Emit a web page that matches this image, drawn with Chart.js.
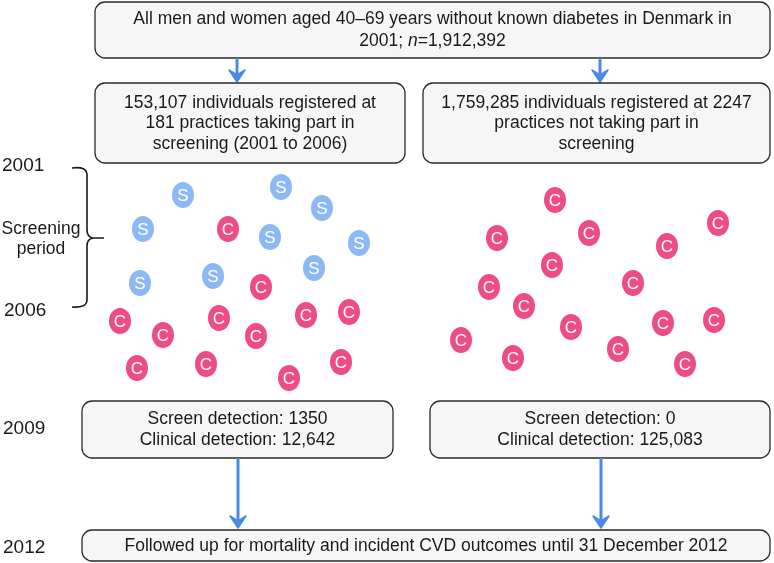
<!DOCTYPE html>
<html>
<head>
<meta charset="utf-8">
<script src="https://cdn.jsdelivr.net/npm/chart.js@4"></script>
<style>
  body { margin: 0; background: #fff; }
  #wrap { width: 774px; height: 563px; position: relative; }
</style>
</head>
<body>
<div id="wrap"><canvas id="flowChart"></canvas></div>
<script>
// Screen-detected cases (blue S) in the screening practices
const screenLeft = [
    [183, 195], [281, 187], [322, 208], [143, 229], [270, 237],
    [359, 243], [314, 268], [213, 276], [140, 283]
];
// Clinically detected cases (pink C) in the screening practices
const clinicalLeft = [
    [228, 229], [261, 287], [120, 321], [163, 335], [219, 318], [256, 336],
    [306, 315], [349, 312], [137, 368], [206, 364], [341, 362], [289, 378]
];
// Clinically detected cases in practices not taking part
const clinicalRight = [
    [555, 200], [497, 238], [589, 233], [718, 223], [667, 246], [552, 265],
    [633, 283], [489, 287], [524, 306], [571, 327], [663, 323], [714, 320],
    [461, 340], [513, 358], [618, 349], [685, 364]
];

const yearLabels = ['2001', '2006', '2009', '2012'];
const bracketLabel = ['Screening', 'period'];
const topText = ['All men and women aged 40\u201369 years without known diabetes in Denmark in', '2001; |n|=1,912,392'];
const screenGroupText = ['153,107 individuals registered at', '181 practices taking part in', 'screening (2001 to 2006)'];
const controlGroupText = ['1,759,285 individuals registered at 2247', 'practices not taking part in', 'screening'];
const screenResultText = ['Screen detection: 1350', 'Clinical detection: 12,642'];
const controlResultText = ['Screen detection: 0', 'Clinical detection: 125,083'];
const followUpText = ['Followed up for mortality and incident CVD outcomes until 31 December 2012'];

const FONT = '"Liberation Sans", Arial, Helvetica, sans-serif';
const BLUE = '#4a8ae6';
const TEXT_SIZE = 17.5;

function toPts(arr) {
    return arr.map(p => ({ x: p[0], y: p[1] }));
}

// small oval marker with a white letter, used as point style
function makeMarker(letter, color) {
    const c = document.createElement('canvas');
    c.width = 24;
    c.height = 28;
    const g = c.getContext('2d');
    g.fillStyle = color;
    g.beginPath();
    g.ellipse(12, 14, 11, 13, 0, 0, Math.PI * 2);
    g.fill();
    g.fillStyle = '#ffffff';
    g.font = '17px ' + FONT;
    g.textAlign = 'center';
    g.textBaseline = 'middle';
    g.fillText(letter, 12, 15);
    return c;
}

// draws one line of text, parts between | are italic
function drawLine(ctx, line, cx, cy, size) {
    const parts = line.split('|');
    let total = 0;
    const widths = parts.map((p, i) => {
        ctx.font = (i % 2 ? 'italic ' : '') + size + 'px ' + FONT;
        const w = ctx.measureText(p).width;
        total += w;
        return w;
    });
    let x = cx - total / 2;
    parts.forEach((p, i) => {
        ctx.font = (i % 2 ? 'italic ' : '') + size + 'px ' + FONT;
        ctx.textAlign = 'left';
        ctx.fillText(p, x, cy);
        x += widths[i];
    });
}

const flowPlugin = {
    id: 'flow',
    beforeDatasetsDraw(chart) {
        const ctx = chart.ctx;
        const sx = v => chart.scales.x.getPixelForValue(v);
        const sy = v => chart.scales.y.getPixelForValue(v);

        function box(x0, y0, x1, y1, lines, lineGap, size) {
            const l = sx(x0), t = sy(y0), r = sx(x1), b = sy(y1);
            ctx.save();
            ctx.beginPath();
            ctx.roundRect(l, t, r - l, b - t, 10);
            ctx.fillStyle = '#f6f6f6';
            ctx.fill();
            ctx.lineWidth = 1.3;
            ctx.strokeStyle = '#2b2b2b';
            ctx.stroke();
            ctx.fillStyle = '#1a1a1a';
            ctx.textBaseline = 'middle';
            const cy = (t + b) / 2 - (lines.length - 1) * lineGap / 2 + 0.5;
            lines.forEach((ln, i) => drawLine(ctx, ln, (l + r) / 2, cy + i * lineGap, size));
            ctx.restore();
        }

        function arrow(x, y0, y1) {
            const px = sx(x), t = sy(y0), b = sy(y1);
            ctx.save();
            ctx.strokeStyle = BLUE;
            ctx.fillStyle = BLUE;
            ctx.lineWidth = 3;
            ctx.beginPath();
            ctx.moveTo(px, t);
            ctx.lineTo(px, b - 6);
            ctx.stroke();
            ctx.beginPath();
            ctx.moveTo(px, b);
            ctx.lineTo(px - 8, b - 12);
            ctx.lineTo(px, b - 7);
            ctx.lineTo(px + 8, b - 12);
            ctx.closePath();
            ctx.fill();
            ctx.lineJoin = 'round';
            ctx.lineWidth = 1.5;
            ctx.stroke();
            ctx.restore();
        }

        box(95, 2, 770, 58, topText, 22, TEXT_SIZE);
        arrow(237, 58, 82);
        arrow(600, 58, 82);
        box(95, 83, 405, 163, screenGroupText, 20.5, TEXT_SIZE);
        box(423, 83, 770, 163, controlGroupText, 20.5, TEXT_SIZE);

        box(82, 401, 393, 458, screenResultText, 21, TEXT_SIZE);
        box(430, 401, 770, 458, controlResultText, 21, TEXT_SIZE);
        arrow(238, 458, 528);
        arrow(601, 458, 528);
        box(82, 530, 770, 561, followUpText, 20, TEXT_SIZE);

        // year labels and bracket
        ctx.save();
        ctx.fillStyle = '#1a1a1a';
        ctx.textBaseline = 'middle';
        ctx.textAlign = 'left';
        ctx.font = '19px ' + FONT;
        ctx.fillText(yearLabels[0], sx(2), sy(166));
        ctx.fillText(yearLabels[1], sx(4), sy(311));
        ctx.fillText(yearLabels[2], sx(3), sy(429));
        ctx.fillText(yearLabels[3], sx(3), sy(548));
        ctx.textAlign = 'center';
        ctx.font = '17.5px ' + FONT;
        ctx.fillText(bracketLabel[0], sx(41), sy(229));
        ctx.fillText(bracketLabel[1], sx(41), sy(249));

        ctx.strokeStyle = '#1a1a1a';
        ctx.lineWidth = 1.6;
        ctx.beginPath();
        ctx.moveTo(sx(72), sy(168));
        ctx.quadraticCurveTo(sx(87), sy(166), sx(87), sy(175));
        ctx.lineTo(sx(87), sy(230));
        ctx.quadraticCurveTo(sx(87), sy(237), sx(93), sy(238));
        ctx.lineTo(sx(104), sy(238));
        ctx.moveTo(sx(93), sy(238));
        ctx.quadraticCurveTo(sx(87), sy(239), sx(87), sy(246));
        ctx.lineTo(sx(87), sy(300));
        ctx.quadraticCurveTo(sx(87), sy(308), sx(72), sy(307));
        ctx.stroke();
        ctx.restore();
    }
};

const ctx = document.getElementById('flowChart').getContext('2d');
const flowChart = new Chart(ctx, {
    type: 'scatter',
    data: {
        datasets: [
            {
                label: 'S',
                data: toPts(screenLeft),
                pointStyle: makeMarker('S', '#8cb9f3'),
                pointRadius: 12,
                pointHoverRadius: 12
            },
            {
                label: 'C',
                data: toPts(clinicalLeft.concat(clinicalRight)),
                pointStyle: makeMarker('C', '#ee4d83'),
                pointRadius: 12,
                pointHoverRadius: 12
            }
        ]
    },
    options: {
        responsive: true,
        maintainAspectRatio: false,
        animation: false,
        events: [],
        layout: { padding: 0, autoPadding: false },
        plugins: {
            legend: { display: false },
            tooltip: { enabled: false }
        },
        scales: {
            x: { type: 'linear', min: 0, max: 774, display: false },
            y: { type: 'linear', min: 0, max: 563, reverse: true, display: false }
        }
    },
    plugins: [flowPlugin]
});
</script>
</body>
</html>
